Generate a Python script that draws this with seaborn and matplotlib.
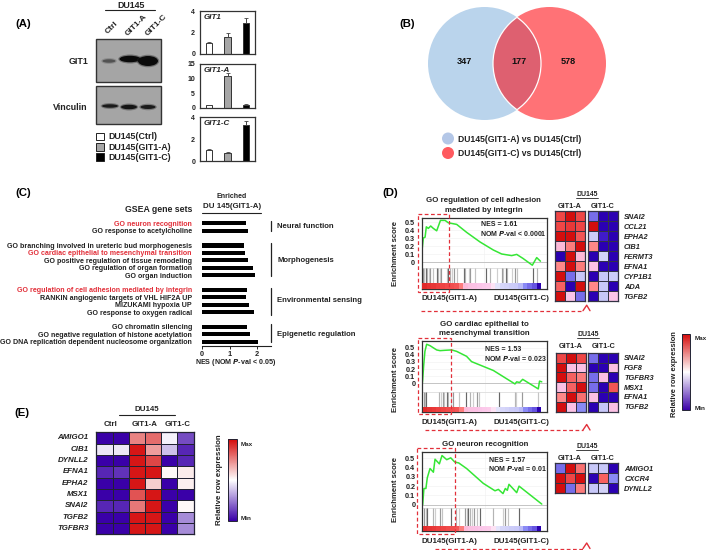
import numpy as np
import pandas as pd
import seaborn as sns
import matplotlib.pyplot as plt
from matplotlib.colors import LinearSegmentedColormap
from matplotlib.patches import Circle, Ellipse, Rectangle

W, H = 709, 550
sns.set_theme(style='white')
plt.rcParams['font.family'] = ['Liberation Sans', 'DejaVu Sans']
plt.rcParams['font.weight'] = 'bold'
plt.rcParams['axes.labelweight'] = 'bold'
INK = '#222222'
RED = '#E2303A'

# panel A
lines = ['Ctrl', 'GIT1-A', 'GIT1-C']
line_colors = ['white', '#A6A6A6', 'black']
git1_mean = [1.0, 1.6, 2.85]
git1_err = [0.1, 0.4, 0.5]
git1a_mean = [1.0, 10.8, 1.1]
git1a_err = [0.1, 1.2, 0.1]
git1c_mean = [1.0, 0.7, 3.25]
git1c_err = [0.1, 0.15, 0.4]

# panel B
venn_counts = [347, 177, 578]

# panel C
gene_sets = ['GO neuron recognition', 'GO response to acetylcholine', ' ',
             'GO branching involved in ureteric bud morphogenesis',
             'GO cardiac epithelial to mesenchymal transition',
             'GO positive regulation of tissue remodeling',
             'GO regulation of organ formation', 'GO organ induction', '  ',
             'GO regulation of cell adhesion mediated by integrin',
             'RANKIN angiogenic targets of VHL HIF2A UP',
             'MIZUKAMI hypoxia UP', 'GO response to oxygen radical', '   ',
             'GO chromatin silencing',
             'GO negative regulation of histone acetylation',
             'GO DNA replication dependent nucleosome organization']
nes_values = [1.58, 1.66, np.nan, 1.51, 1.55, 1.66, 1.83, 1.93, np.nan,
              1.63, 1.58, 1.70, 1.89, np.nan, 1.63, 1.73, 2.04]
red_sets = ['GO neuron recognition', 'GO cardiac epithelial to mesenchymal transition',
            'GO regulation of cell adhesion mediated by integrin']

# panel D, enrichment curves (percent of ranked list, score)
es1_x = [0, 0.3, 1.3, 2.7, 3.7, 5.3, 7.2, 9.3, 12, 15, 18.7, 21.3, 28, 36, 46.7, 57.3,
         64, 72, 76, 81, 88.5, 92, 95]
es1_y = [0.0, 0.15, 0.30, 0.31, 0.44, 0.42, 0.45, 0.42, 0.39, 0.52, 0.52, 0.49, 0.47,
         0.37, 0.25, 0.15, 0.10, 0.08, 0.095, 0.045, -0.04, 0.055, 0.01]
es2_x = [0, 0.3, 1.1, 2.1, 3.5, 6.2, 11.5, 14.2, 18.2, 23.5, 27.5, 35.5, 39.5, 57, 74.3,
         75.7, 78, 80.5, 93, 94, 95.8]
es2_y = [0.0, 0.05, 0.25, 0.45, 0.55, 0.53, 0.47, 0.46, 0.465, 0.47, 0.45, 0.38, 0.305,
         0.18, -0.01, 0.02, 0.01, 0.055, -0.08, 0.03, 0.02]
es3_x = [0, 0.3, 1.3, 2.9, 4, 6.2, 8.9, 10.2, 13.7, 15.8, 19.6, 22.8, 26, 29.2, 35.5,
         48.9, 58.3, 61, 64.7, 66.6, 68.2, 69.5, 75.7, 77.6, 95.8]
es3_y = [0.0, 0.0, 0.175, 0.175, 0.29, 0.39, 0.35, 0.49, 0.44, 0.53, 0.485, 0.505, 0.46,
         0.45, 0.39, 0.23, 0.15, 0.165, 0.12, 0.175, 0.155, 0.22, 0.13, 0.20, 0.007]
hits1 = [1, 2, 3.5, 4.5, 6, 7, 8.8, 12, 13.3, 14.7, 15.5, 20, 21.3, 23, 24.5, 26, 28,
         34, 35, 38, 39, 43, 51.5, 54.5, 60, 64, 65.3, 67.5, 68.5, 72, 74.7, 76, 89.3, 92]
hits2 = [1, 1.9, 2.9, 13.5, 15, 16.3, 17.4, 19.5, 21, 22.7, 24.4, 29.7, 34.8, 38.2, 41,
         44, 45.7, 61.2, 74.3, 75.5, 79.8, 93]
hits3 = [1, 2.9, 4, 8.9, 10.2, 14.2, 15.8, 22.8, 26.8, 29.7, 34.2, 35.5, 36.9, 38.2, 39.6,
         41.4, 43.6, 46.3, 57, 65, 66.6, 69, 77.6]
rank_strip = [0.85, 0.82, 0.8, 0.78, 0.76, 0.74, 0.72, 0.7, 0.55, 0.3, 0.28, 0.27, 0.25, 0.24,
              0.22, 0.12, -0.12, -0.18, -0.2, -0.22, -0.24, -0.3, -0.5, -0.55, -0.6, -1.0]
hm1_genes = ['SNAI2', 'CCL21', 'EPHA2', 'CIB1', 'FERMT3', 'EFNA1', 'CYP1B1', 'ADA', 'TGFB2']
hm1_a = [[.75, .95, .75], [.75, .8, .75], [.95, .95, .7], [.3, .55, .95], [-1, .95, .3],
         [.5, .95, .55], [.95, -.55, -.25], [.65, -1, .95], [.95, .25, -.55]]
hm1_c = [[-.55, -.95, -.95], [.95, -.95, -.95], [-.22, -.7, -.95], [.5, -.95, -.95],
         [-1, -.2, -.95], [.27, -.95, -.95], [-.95, -.25, -.22], [.5, -.25, -.95],
         [-.95, -.25, .25]]
hm2_genes = ['SNAI2', 'FGF8', 'TGFBR3', 'MSX1', 'EFNA1', 'TGFB2']
hm2_a = [[.75, .95, .75], [.95, .27, .27], [.95, .65, .55], [.27, .65, .95], [.5, .95, .6],
         [.95, .27, -.5]]
hm2_c = [[-.55, -.95, -.95], [-.95, -.95, .27], [-.55, .27, -.95], [-.55, -.95, .7],
         [.27, -.95, -.95], [-.95, -.25, .27]]
hm3_genes = ['AMIGO1', 'CXCR4', 'DYNLL2']
hm3_a = [[-.55, .95, .6], [.95, .75, .95], [.95, -.55, .55]]
hm3_c = [[-.25, -.25, -.95], [-.95, .65, -.5], [-.25, -.2, -.95]]

# panel E
e_genes = ['AMIGO1', 'CIB1', 'DYNLL2', 'EFNA1', 'EPHA2', 'MSX1', 'SNAI2', 'TGFB2', 'TGFBR3']
e_values = [[-1, -1, .5, .6, -.05, -.7],
            [-.1, -.1, .95, .4, -.25, -.85],
            [-1, -1, .95, .75, -1, -.85],
            [-.85, -.8, .95, .95, .03, .08],
            [-1, -1, .95, .2, -1, .07],
            [-1, -1, .7, .95, -1, -1],
            [-.85, -.85, .55, .95, -1, .03],
            [-1, -1, .95, .95, -1, -.45],
            [-1, -1, .95, .95, -1, -.45]]

gsea_cmap = LinearSegmentedColormap.from_list('gsea', [
    (0, '#2A00B0'), (0.125, '#2E00C0'), (0.25, '#8A8AF5'), (0.4, '#D2D2F8'), (0.5, '#FFFFFF'),
    (0.63, '#FBC4E8'), (0.75, '#FF8A8A'), (0.875, '#F04848'), (1, '#CC0000')])
expr_cmap = LinearSegmentedColormap.from_list('expr', ['#3A00A8', '#FFFFFF', '#D40A0A'])


fig = plt.figure(figsize=(W / 100, H / 100), dpi=100)


def px_ax(x0, y0, x1, y1, **kw):
    return fig.add_axes([x0 / W, 1 - y1 / H, (x1 - x0) / W, (y1 - y0) / H], **kw)


# overlay in pixel coordinates for annotations
ov = px_ax(0, 0, W, H)
ov.set_xlim(0, W)
ov.set_ylim(H, 0)
ov.axis('off')
ov.set_zorder(5)
ov.patch.set_alpha(0)


def label(x, y, s, size=5.7, ha='center', **kw):
    kw.setdefault('color', INK)
    ov.text(x, y, s, fontsize=size, ha=ha, va='center', **kw)


for x, y, s in [(23, 24, '(A)'), (407, 24, '(B)'), (23, 193, '(C)'), (390, 193, '(D)'), (22, 413, '(E)')]:
    label(x, y, s, size=8.2, color='black')

# A: blots
for y0, y1 in [(39, 82), (86, 124)]:
    ov.add_patch(Rectangle((96, y0), 65, y1 - y0, fc='#A5A5A5', ec='#333333', lw=1))
bands = [(109, 61, 13, 3.5, 0.45), (130, 59, 21, 6.5, 1), (148, 61, 20, 10, 1),
         (110, 106, 16, 3.5, 0.85), (129, 107, 16, 4.5, 0.9), (148, 107, 15, 4, 0.85)]
for x, y, w, h, a in bands:
    ov.add_patch(Ellipse((x, y), w + 2.5, h + 2.5, fc='#222222', ec='none', alpha=a * 0.4))
    ov.add_patch(Ellipse((x, y), w, h, fc='#0A0A0A', ec='none', alpha=a))
label(131, 5.5, 'DU145', size=6.4)
ov.plot([105, 155], [10.3, 10.3], color=INK, lw=0.8)
for x, y, s in [(112, 28, 'Ctrl'), (136, 25, 'GIT1-A'), (156, 25, 'GIT1-C')]:
    label(x, y, s, size=6, rotation=45)
label(88, 61, 'GIT1', size=6.4, ha='right')
label(88, 107, 'Vinculin', size=6.4, ha='right')
for y, c, s in zip([136.5, 147, 157], line_colors, lines):
    ov.add_patch(Rectangle((96, y - 3.8), 7.5, 7.6, fc=c, ec=INK, lw=0.7))
    label(108, y, 'DU145(%s)' % s, size=6.4, ha='left')

# A: qPCR bars
bar_panels = [((200, 11, 255, 54), git1_mean, git1_err, 4, [0, 2, 4], 'GIT1'),
              ((200, 64, 255, 108), git1a_mean, git1a_err, 15, [0, 5, 10, 15], 'GIT1-A'),
              ((200, 117, 255, 161), git1c_mean, git1c_err, 4, [0, 2, 4], 'GIT1-C')]
for rect, mean, err, top, ticks, name in bar_panels:
    ax = px_ax(*rect)
    sns.barplot(x=lines, y=mean, hue=lines, palette=line_colors, width=0.36, edgecolor='#333333',
                linewidth=0.7, errorbar=None, legend=False, ax=ax)
    ax.errorbar([0, 1, 2], mean, yerr=[[0, 0, 0], err], fmt='none', ecolor='#444444', elinewidth=0.7,
                capsize=1.2, capthick=0.6)
    ax.set_xlim(-0.5, 2.5)
    ax.set_ylim(0, top)
    ax.set_yticks(ticks)
    ax.set_xticks([])
    ax.set_xlabel('')
    ax.tick_params(axis='y', length=0, pad=3.5, labelsize=5, labelcolor=INK)
    for sp in ax.spines.values():
        sp.set_color('#333333')
        sp.set_linewidth(0.9)
    ax.text(0.06, 0.86, name, transform=ax.transAxes, fontsize=5.8, style='italic', va='center', color=INK)

# B: venn
blue, salmon = '#BAD4EC', '#FF7276'
c_a = Circle((484.5, 63.5), 56.5, fc=blue, ec='none')
c_b = Circle((549.5, 63.5), 56.5, fc=salmon, ec='none')
ov.add_patch(c_a)
ov.add_patch(c_b)
overlap = Circle((484.5, 63.5), 56.5, fc='#DE6070', ec='none')
ov.add_patch(overlap)
overlap.set_clip_path(Circle((549.5, 63.5), 56.5, transform=ov.transData))
ring_a = Circle((484.5, 63.5), 56.5, fc='none', ec='white', lw=0.9)
ring_b = Circle((549.5, 63.5), 56.5, fc='none', ec='white', lw=0.9)
ov.add_patch(ring_a)
ov.add_patch(ring_b)
ring_a.set_clip_path(Circle((549.5, 63.5), 56.5, transform=ov.transData))
ring_b.set_clip_path(Circle((484.5, 63.5), 56.5, transform=ov.transData))
for x, n in zip([464.5, 519, 568], venn_counts):
    label(x, 62, str(n), size=6.6, color='#111111')
ov.add_patch(Circle((448, 138.5), 6, fc='#B4C7E7', ec='none'))
ov.add_patch(Circle((448, 153), 6, fc='#FF5A5F', ec='none'))
label(458, 140, 'DU145(GIT1-A) vs DU145(Ctrl)', size=6.25, ha='left')
label(458, 153, 'DU145(GIT1-C) vs DU145(Ctrl)', size=6.25, ha='left')

# C: NES bars
row = 7.4
ax = px_ax(202, 215, 271, 345.5)
sns.barplot(x=nes_values, y=gene_sets, color='black', orient='h', width=0.58, linewidth=0, errorbar=None, ax=ax)
ax.set_xlim(0, 2.5)
ax.set_ylim((345.5 - 223.3) / row, (215 - 223.3) / row)
ax.set_xticks([0, 1, 2])
ax.tick_params(axis='x', length=2, width=0.7, pad=2, labelsize=5.3, bottom=True, labelcolor=INK)
ax.tick_params(axis='y', length=0, pad=7.2, labelsize=5.1)
for t in ax.get_yticklabels():
    t.set_color(RED if t.get_text() in red_sets else INK)
sns.despine(ax=ax, left=True)
ax.spines['bottom'].set_color(INK)
ax.spines['bottom'].set_linewidth(0.8)
label(192, 209, 'GSEA gene sets', size=6.3, ha='right')
label(232, 197, 'Enriched', size=5)
label(232, 207, 'DU 145(GIT1-A)', size=5.7)
ov.plot([202, 261], [213, 213], color=INK, lw=0.8)
label(236, 362.7, 'NES (NOM $\\bfit{P}$-val < 0.05)', size=5.1)
for y0, y1, y_text, s in [(221, 231, 226, 'Neural function'), (243, 276, 260, 'Morphogenesis'),
                          (288, 315, 301, 'Environmental sensing'), (324, 342, 334, 'Epigenetic regulation')]:
    ov.plot([271, 271], [y0, y1], color=INK, lw=0.9)
    label(277, y_text, s, size=5.6, ha='left')

# D: enrichment plots
es_panels = [
    dict(box=(421.7, 218, 546.7, 289), ylim=(-0.3375, 0.55), xs=es1_x, ys=es1_y, hits=hits1, hit=(267.7, 283),
         title=['GO regulation of cell adhesion', 'mediated by integrin'], title_y=[200.7, 210], title_x=483.5,
         nes='NES = 1.61', nom='NOM $\\bfit{P}$-val < 0.0001', nes_xy=(480.7, 225), nom_xy=(480, 234),
         rect=(417.7, 214.3, 448.7, 291.7), arrow=(420.7, 310.7), label_y=299, ylab_y=254),
    dict(box=(422.3, 341, 547, 412.3), ylim=(-0.41, 0.596), xs=es2_x, ys=es2_y, hits=hits2, hit=(392.3, 407.3),
         title=['GO cardiac epithelial to', 'mesenchymal transition'], title_y=[324, 333.3], title_x=484.3,
         nes='NES = 1.53', nom='NOM $\\bfit{P}$-val = 0.023', nes_xy=(484.7, 349.3), nom_xy=(483.7, 358.3),
         rect=(418, 338, 450.7, 414), arrow=(425, 430), label_y=422.7, ylab_y=379),
    dict(box=(422.3, 451.7, 547, 531), ylim=(-0.283, 0.571), xs=es3_x, ys=es3_y, hits=hits3, hit=(508, 525.7),
         title=['GO neuron recognition'], title_y=[444.3], title_x=485,
         nes='NES = 1.57', nom='NOM $\\bfit{P}$-val = 0.01', nes_xy=(488.7, 460), nom_xy=(487.7, 468.3),
         rect=(417.3, 448.3, 455, 534), arrow=(435, 548.5), label_y=541.7, ylab_y=489),
]
for p in es_panels:
    x0, y0, x1, y1 = p['box']
    ax = px_ax(x0, y0, x1, y1)
    ax.grid(True, color='#F0F0F0', lw=0.4)
    ax.axhline(0, color='#C4C4C4', lw=0.7)
    sns.lineplot(x=p['xs'], y=p['ys'], color='#35E635', lw=1.1, estimator=None, sort=False, ax=ax)
    ax.set_xlim(0, 100)
    ax.set_ylim(*p['ylim'])
    ax.set_yticks([0, 0.1, 0.2, 0.3, 0.4, 0.5], ['0', '0.1', '0.2', '0.3', '0.4', '0.5'])
    ax.set_xticklabels([])
    ax.tick_params(axis='y', length=0, pad=5, labelsize=5.2, labelcolor=INK)
    hit_lo = (y1 - p['hit'][1]) / (y1 - y0)
    hit_hi = (y1 - p['hit'][0]) / (y1 - y0)
    ax.axhline(ax.get_ylim()[0] + hit_hi * (ax.get_ylim()[1] - ax.get_ylim()[0]), color='#DDDDDD', lw=0.6)
    shades = ['#999999', '#C4C4C4', '#666666', '#B4B4B4', '#CFCFCF']
    for i, h in enumerate(p['hits']):
        ax.vlines(h, hit_lo, hit_hi, color=shades[i % 5], lw=0.85, transform=ax.get_xaxis_transform())
    for sp in ax.spines.values():
        sp.set_color('#333333')
        sp.set_linewidth(0.9)
    strip = px_ax(x0 + 0.5, p['hit'][1], x0 + (x1 - x0) * 0.955, y1 - 0.5)
    sns.heatmap([rank_strip], cmap=gsea_cmap, vmin=-1, vmax=1, cbar=False, xticklabels=False,
                yticklabels=False, ax=strip)
    for t, ty in zip(p['title'], p['title_y']):
        label(p['title_x'], ty, t, size=5.7)
    label(p['nes_xy'][0], p['nes_xy'][1], p['nes'], size=5, ha='left')
    label(p['nom_xy'][0], p['nom_xy'][1], p['nom'], size=5, ha='left')
    rx0, ry0, rx1, ry1 = p['rect']
    ov.add_patch(Rectangle((rx0, ry0), rx1 - rx0, ry1 - ry0, fc='none', ec=RED, lw=0.9, ls=(0, (3, 2))))
    ax_, ay_ = p['arrow']
    ov.plot([ax_, 583], [ay_, ay_], color=RED, lw=0.9, ls=(0, (3, 2)))
    ov.plot([583, 586.7, 590], [ay_, ay_ - 5.5, ay_], color=RED, lw=1)
    label(449.5, p['label_y'], 'DU145(GIT1-A)', size=5.7)
    label(521.7, p['label_y'], 'DU145(GIT1-C)', size=5.7)
    label(395.5, p['ylab_y'], 'Enrichment score', size=5.6, rotation=90)

# D: heatmaps
hm_panels = [(211.3, 301, 555, 584.7, 587.7, 618, hm1_genes, hm1_a, hm1_c, 206.7, 194, 587),
             (352.7, 411.7, 556, 585.7, 588.3, 618.3, hm2_genes, hm2_a, hm2_c, 347, 334, 588),
             (463.3, 493, 555, 585, 587.7, 618.3, hm3_genes, hm3_a, hm3_c, 458.3, 446, 587)]
for y0, y1, ax0, ax1, cx0, cx1, genes, va, vc, head_y, du_y, du_x in hm_panels:
    a = px_ax(ax0, y0, ax1, y1)
    c = px_ax(cx0, y0, cx1, y1)
    sns.heatmap(pd.DataFrame(va, index=genes), cmap=gsea_cmap, vmin=-1, vmax=1, cbar=False, linewidths=0.6,
                linecolor='#333344', xticklabels=False, yticklabels=False, ax=a)
    sns.heatmap(pd.DataFrame(vc, index=genes), cmap=gsea_cmap, vmin=-1, vmax=1, cbar=False, linewidths=0.6,
                linecolor='#333344', xticklabels=False, yticklabels=genes, ax=c)
    c.yaxis.tick_right()
    c.tick_params(axis='y', length=0, pad=4.3, labelsize=5.3, labelrotation=0)
    for t in c.get_yticklabels():
        t.set_style('italic')
        t.set_color(INK)
    for h in (a, c):
        for sp in h.spines.values():
            sp.set_visible(True)
            sp.set_color('#333344')
            sp.set_linewidth(0.9)
    label((ax0 + ax1) / 2, head_y, 'GIT1-A', size=5.2)
    label((cx0 + cx1) / 2, head_y, 'GIT1-C', size=5.2)
    label(du_x, du_y, 'DU145', size=5)
    ov.plot([du_x - 11, du_x + 11], [du_y + 3.6, du_y + 3.6], color=INK, lw=0.6)

# E: heatmap
e_ax = px_ax(96.3, 432.3, 193.7, 534.3)
e_cax = px_ax(228.3, 439.3, 237, 520.7)
sns.heatmap(pd.DataFrame(e_values, index=e_genes), cmap=expr_cmap, vmin=-1, vmax=1, linewidths=0.6, linecolor='#222233',
            xticklabels=False, yticklabels=e_genes, cbar_ax=e_cax, cbar_kws={'ticks': []}, ax=e_ax)
e_ax.tick_params(axis='y', length=0, pad=5.5, labelsize=5.7, labelrotation=0)
for t in e_ax.get_yticklabels():
    t.set_style('italic')
    t.set_color(INK)
for sp in e_ax.spines.values():
    sp.set_visible(True)
    sp.set_color('#222233')
    sp.set_linewidth(0.9)
e_cbar = e_ax.collections[0].colorbar
e_cbar.outline.set_visible(True)
e_cbar.outline.set_edgecolor('#222233')
e_cbar.outline.set_linewidth(0.7)
for x, s in [(111, 'Ctrl'), (144.3, 'GIT1-A'), (177.7, 'GIT1-C')]:
    label(x, 424, s, size=5.7)
label(147, 409.5, 'DU145', size=5.7)
ov.plot([119, 175], [414.7, 414.7], color=INK, lw=0.8)
label(241, 444, 'Max', size=4.6, ha='left')
label(241, 518.7, 'Min', size=4.6, ha='left')
label(219.3, 480, 'Relative row expression', size=5.7, rotation=90)

# D: shared colour bar
d_cax = px_ax(681.7, 334, 690.3, 410)
sm = plt.cm.ScalarMappable(cmap=expr_cmap, norm=plt.Normalize(-1, 1))
d_cbar = fig.colorbar(sm, cax=d_cax, ticks=[])
d_cbar.outline.set_edgecolor('#222233')
d_cbar.outline.set_linewidth(0.7)
label(695, 338, 'Max', size=4.6, ha='left')
label(695, 409, 'Min', size=4.6, ha='left')
label(675, 374.5, 'Relative row expression', size=5.4, rotation=90)

fig.savefig('out.png', dpi=100)
